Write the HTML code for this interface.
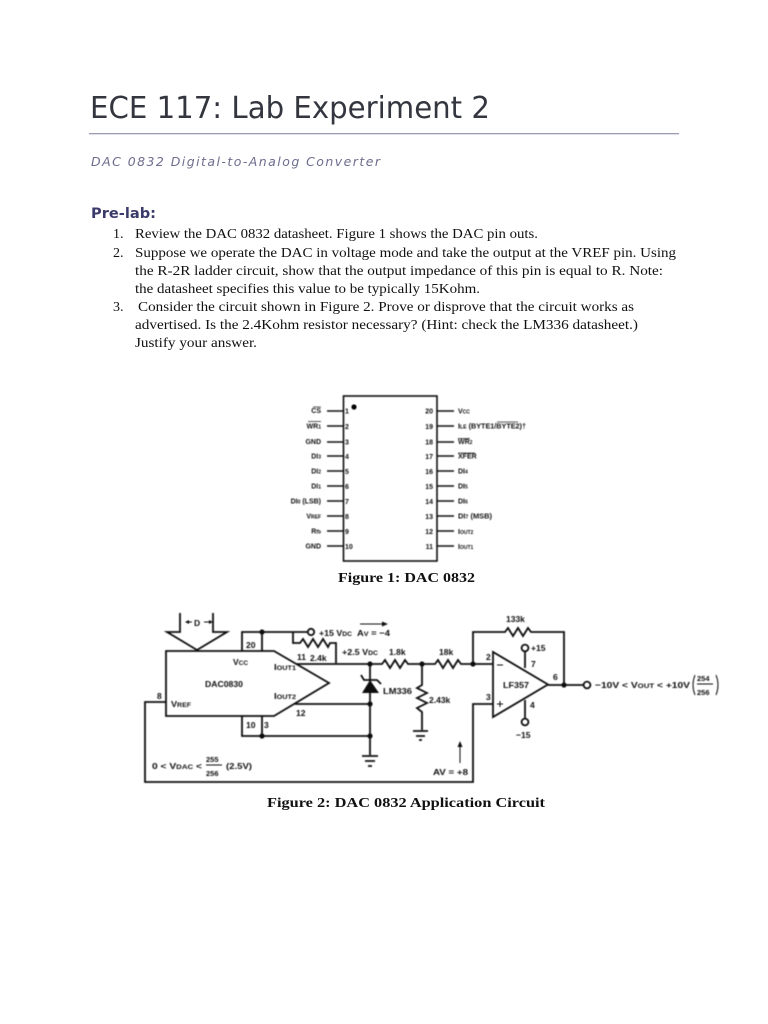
<!DOCTYPE html>
<html><head><meta charset="utf-8"><style>
html,body{margin:0;padding:0;background:#fff}
svg{display:block}
.b{font-family:"Liberation Serif",serif;font-size:14px;fill:#111}
.c{font-family:"Liberation Serif",serif;font-size:13.5px;font-weight:bold;fill:#111}
.p{font-family:"Liberation Sans",sans-serif;font-size:7px;font-weight:bold;fill:#111}
.t{font-family:"Liberation Sans",sans-serif;font-size:8.5px;font-weight:bold;fill:#111}
.w{fill:none;stroke:#111;stroke-width:1.8}
.s{fill:none;stroke:#111;stroke-width:1.6}
</style></head><body>
<svg width="768" height="1024" viewBox="0 0 768 1024" xmlns="http://www.w3.org/2000/svg">
<defs><filter id="bl" x="-5%" y="-5%" width="110%" height="110%"><feGaussianBlur stdDeviation="0.4"/></filter></defs>
<rect width="768" height="1024" fill="#fff"/>
<text x="90" y="118" font-family="'DejaVu Sans',sans-serif" font-size="30" fill="#34363f" textLength="400" lengthAdjust="spacingAndGlyphs">ECE 117: Lab Experiment 2</text>
<rect x="89" y="133" width="590" height="1.3" fill="#9a9ab2"/>
<text x="91" y="166" font-family="'DejaVu Sans',sans-serif" font-style="italic" font-size="12.5" fill="#6d6d8e" textLength="289" lengthAdjust="spacing">DAC 0832 Digital-to-Analog Converter</text>
<text x="91" y="218" font-family="'DejaVu Sans',sans-serif" font-weight="bold" font-size="14.5" fill="#3b3b6b" textLength="65" lengthAdjust="spacingAndGlyphs">Pre-lab:</text>

<text class="b" x="113" y="238">1.</text>
<text class="b" x="135" y="238" textLength="403" lengthAdjust="spacingAndGlyphs">Review the DAC 0832 datasheet. Figure 1 shows the DAC pin outs.</text>
<text class="b" x="113" y="257">2.</text>
<text class="b" x="135" y="257" textLength="541" lengthAdjust="spacingAndGlyphs">Suppose we operate the DAC in voltage mode and take the output at the VREF pin. Using</text>
<text class="b" x="135" y="275" textLength="528" lengthAdjust="spacingAndGlyphs">the R-2R ladder circuit, show that the output impedance of this pin is equal to R. Note:</text>
<text class="b" x="135" y="293" textLength="345" lengthAdjust="spacingAndGlyphs">the datasheet specifies this value to be typically 15Kohm.</text>
<text class="b" x="113" y="311">3.</text>
<text class="b" x="138" y="311" textLength="496" lengthAdjust="spacingAndGlyphs">Consider the circuit shown in Figure 2. Prove or disprove that the circuit works as</text>
<text class="b" x="135" y="329" textLength="503" lengthAdjust="spacingAndGlyphs">advertised. Is the 2.4Kohm resistor necessary? (Hint: check the LM336 datasheet.)</text>
<text class="b" x="135" y="347" textLength="122" lengthAdjust="spacingAndGlyphs">Justify your answer.</text>

<g filter="url(#bl)">
<!-- Figure 1 chip -->
<rect x="343.5" y="396" width="93.5" height="165" class="s"/>
<circle cx="354" cy="407" r="2.6" fill="#000"/>
<path class="s" d="M327 411H343M327 426H343M327 442H343M327 456H343M327 471H343M327 486H343M327 501H343M327 516H343M327 531H343M327 546H343M437 411H454M437 426H454M437 442H454M437 456H454M437 471H454M437 486H454M437 501H454M437 516H454M437 531H454M437 546H454"/>
<g class="p" text-anchor="end">
<text x="321" y="413">CS</text>
<text x="321" y="428.500">WR<tspan font-size="5">1</tspan></text>
<text x="321" y="444">GND</text>
<text x="321" y="458.500">DI<tspan font-size="5">3</tspan></text>
<text x="321" y="473.500">DI<tspan font-size="5">2</tspan></text>
<text x="321" y="488.500">DI<tspan font-size="5">1</tspan></text>
<text x="321" y="503.500">DI<tspan font-size="5">0</tspan> (LSB)</text>
<text x="321" y="518.500">V<tspan font-size="5">REF</tspan></text>
<text x="321" y="533.500">R<tspan font-size="5">fb</tspan></text>
<text x="321" y="548.500">GND</text>
<text x="433" y="413.500">20</text><text x="433" y="429">19</text><text x="433" y="444.500">18</text><text x="433" y="459">17</text><text x="433" y="474">16</text><text x="433" y="489">15</text><text x="433" y="504">14</text><text x="433" y="519">13</text><text x="433" y="534">12</text><text x="433" y="549">11</text>
</g>
<g class="p">
<text x="345" y="413.500">1</text><text x="345" y="429">2</text><text x="345" y="444.500">3</text><text x="345" y="459">4</text><text x="345" y="474">5</text><text x="345" y="489">6</text><text x="345" y="504">7</text><text x="345" y="519">8</text><text x="345" y="534">9</text><text x="345" y="549">10</text>
<text x="458" y="413.500">V<tspan font-size="5">CC</tspan></text>
<text x="458" y="428.500" textLength="68" lengthAdjust="spacingAndGlyphs">I<tspan font-size="5">LE</tspan> (BYTE1/BYTE2)†</text>
<text x="458" y="444">WR<tspan font-size="5">2</tspan></text>
<text x="458" y="458.500">XFER</text>
<text x="458" y="473.500">DI<tspan font-size="5">4</tspan></text>
<text x="458" y="488.500">DI<tspan font-size="5">5</tspan></text>
<text x="458" y="503.500">DI<tspan font-size="5">6</tspan></text>
<text x="458" y="518.500" textLength="34" lengthAdjust="spacingAndGlyphs">DI<tspan font-size="5">7</tspan> (MSB)</text>
<text x="458" y="534">I<tspan font-size="5">OUT2</tspan></text>
<text x="458" y="549">I<tspan font-size="5">OUT1</tspan></text>
</g>
<path d="M313 407H321M308 421.500H321M458 438.500H470M458 453H475M497 422H518" stroke="#222" stroke-width=".7" fill="none"/>

<!-- Figure 2 circuit -->
<g class="w">
<path d="M180 613V632H167L197 650L227 632H213V613"/>
<path d="M166 651H274L329 683L274 716H166Z"/>
<path d="M242 651V632H307M262 632V651"/>
<path d="M293 632V643H300L303 639L308 647L313 639L318 647L323 639L328 647L330 643H336V663"/>
<path d="M296 664H382L385 660L390 668L395 660L400 668L405 660L408 664H435L438 660L443 668L448 660L453 668L458 660L461 664H493"/>
<path d="M370 664V755"/>
<path d="M361 675L364 680H377L381 684"/>
<path d="M295 704H370M242 716V736H370M262 716V736"/>
<path d="M166 702H145V782H473V704H493"/>
<path d="M422 664V685L417 688L427 693L417 698L427 703L417 708L422 712V730"/>
<path d="M362 756H378M365 761H375M368 766H372"/>
<path d="M413 731H428M416 736H425M419 740H422"/>
<path d="M493 652V717L548 684.500Z"/>
<path d="M473 664V632H505L508 628L513 636L518 628L523 636L528 628L531 632H564V685"/>
<path d="M548 685H583"/>
<path d="M525 668V652M525 700V718"/>
<circle cx="311" cy="632" r="3.2"/>
<circle cx="525" cy="648" r="3.4"/>
<circle cx="525" cy="722" r="3.4"/>
<circle cx="587" cy="685" r="3.4"/>
<path d="M460 763V745" stroke-width="1"/>
<path d="M360 624H383" stroke-width="1"/>
<path d="M187 622H192M204 622H211" stroke-width="1"/>
<path d="M497 665H503M497 704H503M500 701V707" stroke-width="1"/>
</g>
<path d="M362 693L370 680L379 693Z" fill="#111"/>
<path d="M460 741L457.500 747H462.500Z M388 624L382 621.500V626.500Z M185 622L189 620V624Z M213 622L209 620V624Z" fill="#111"/>
<g fill="#111">
<circle cx="262" cy="632" r="2.6"/><circle cx="370" cy="664" r="2.6"/><circle cx="422" cy="664" r="2.6"/><circle cx="473" cy="664" r="2.6"/><circle cx="370" cy="704" r="2.6"/><circle cx="262" cy="736" r="2.6"/><circle cx="370" cy="736" r="2.6"/><circle cx="564" cy="685" r="2.6"/>
</g>
<g class="t">
<text x="194" y="626">D</text>
<text x="319" y="636" textLength="33" lengthAdjust="spacingAndGlyphs">+15 V<tspan font-size="6.500">DC</tspan></text>
<text x="357" y="636" textLength="33" lengthAdjust="spacingAndGlyphs">A<tspan font-size="6.500">V</tspan> = −4</text>
<text x="246" y="648">20</text>
<text x="297" y="660">11</text>
<text x="310" y="661">2.4k</text>
<text x="342" y="655" textLength="36" lengthAdjust="spacingAndGlyphs">+2.5 V<tspan font-size="6.500">DC</tspan></text>
<text x="389" y="655">1.8k</text>
<text x="233" y="665">V<tspan font-size="6.500">CC</tspan></text>
<text x="274" y="670" textLength="22" lengthAdjust="spacingAndGlyphs">I<tspan font-size="6.500">OUT1</tspan></text>
<text x="205" y="687" textLength="38" lengthAdjust="spacingAndGlyphs">DAC0830</text>
<text x="274" y="699" textLength="22" lengthAdjust="spacingAndGlyphs">I<tspan font-size="6.500">OUT2</tspan></text>
<text x="157" y="699">8</text>
<text x="171" y="707" textLength="20" lengthAdjust="spacingAndGlyphs">V<tspan font-size="6.500">REF</tspan></text>
<text x="296" y="716">12</text>
<text x="383" y="694" textLength="29" lengthAdjust="spacingAndGlyphs">LM336</text>
<text x="246" y="728">10</text>
<text x="264" y="728">3</text>
<text x="429" y="703">2.43k</text>
<text x="439" y="655">18k</text>
<text x="506" y="622">133k</text>
<text x="486" y="660">2</text>
<text x="486" y="700">3</text>
<text x="503" y="688" textLength="26" lengthAdjust="spacingAndGlyphs">LF357</text>
<text x="531" y="651">+15</text>
<text x="531" y="667">7</text>
<text x="530" y="708">4</text>
<text x="516" y="738">−15</text>
<text x="553" y="680">6</text>
<text x="433" y="775" textLength="35" lengthAdjust="spacingAndGlyphs">AV = +8</text>
<text x="595" y="688" textLength="95" lengthAdjust="spacingAndGlyphs">−10V &lt; V<tspan font-size="6.500">OUT</tspan> &lt; +10V</text>
<text x="697" y="681" font-size="7.500">254</text>
<text x="697" y="695" font-size="7.500">256</text>
<text x="152" y="769" textLength="50" lengthAdjust="spacingAndGlyphs">0 &lt; V<tspan font-size="6.500">DAC</tspan> &lt;</text>
<text x="206" y="762" font-size="7.500">255</text>
<text x="206" y="776" font-size="7.500">256</text>
<text x="226" y="769" textLength="26" lengthAdjust="spacingAndGlyphs">(2.5V)</text>
</g>
<path d="M206 765H222M697 684H713" stroke="#111" stroke-width="1"/>
<path d="M695 675Q691 685 695 695M716 675Q720 685 716 695" fill="none" stroke="#111" stroke-width="1"/>
</g>

<text class="c" x="338" y="582" textLength="137" lengthAdjust="spacingAndGlyphs">Figure 1: DAC 0832</text>
<text class="c" x="267" y="807" textLength="278" lengthAdjust="spacingAndGlyphs">Figure 2: DAC 0832 Application Circuit</text>
</svg>
</body></html>
